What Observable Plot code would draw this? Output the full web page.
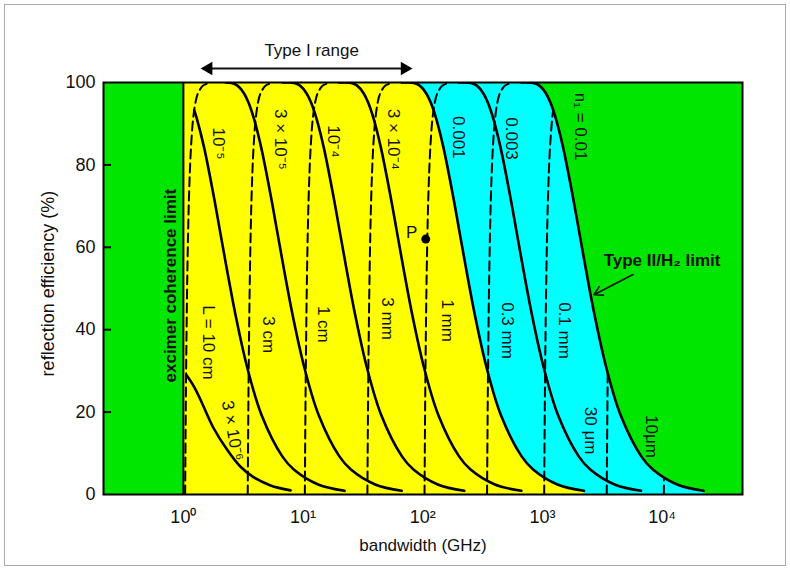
<!DOCTYPE html>
<html><head><meta charset="utf-8">
<script src="https://cdn.jsdelivr.net/npm/d3@7"></script>
<script src="https://cdn.jsdelivr.net/npm/@observablehq/plot@0.6"></script>
<style>
body{margin:0;background:#fff;}
#chart{position:relative;width:790px;height:570px;font-family:"Liberation Sans",Arial,Helvetica,sans-serif;}
#border{position:absolute;left:4px;top:4px;width:780px;height:560px;border:1px solid #aaa;pointer-events:none;}
</style></head><body>
<div id="chart"><div id="border"></div></div>
<script>
// ---- axes ----
const xDomain = [0.215, 47000];
const yDomain = [0, 100];
const xTicks = [1, 10, 100, 1000, 10000];
const xTickLabels = ["10⁰", "10¹", "10²", "10³", "10⁴"];
const yTicks = [0, 20, 40, 60, 80, 100];

// ---- solid curves: constant index modulation n1 (bandwidth GHz, reflection %) ----
const solidN1 = ["3e-6", "1e-5", "3e-5", "1e-4", "3e-4", "1e-3", "3e-3", "1e-2"];
const solidBW = [
  [1.06, 1.22, 1.39, 1.78, 2.33, 2.99, 3.85, 5.35, 7.86],
  [1.231, 1.297, 1.492, 1.797, 2.020, 2.323, 2.752, 3.403, 4.499, 6.707, 8.369, 13.36, 22.26],
  [2.254, 2.527, 2.831, 3.205, 3.492, 3.892, 4.476, 5.391, 6.060, 6.967, 8.254, 10.21, 13.50, 20.12, 25.11, 40.08, 66.77],
  [6.75, 7.46, 8.42, 9.44, 10.68, 11.64, 12.97, 14.92, 17.97, 20.20, 23.23, 27.52, 34.03, 44.99, 67.07, 83.69, 133.6, 222.6],
  [20.05, 22.38, 25.27, 28.31, 32.05, 34.92, 38.92, 44.76, 53.91, 60.60, 69.67, 82.54, 102.1, 135.0, 201.2, 251.1, 400.8, 667.7],
  [66.75, 74.61, 84.23, 94.37, 106.8, 116.4, 129.7, 149.2, 179.7, 202.0, 232.3, 275.2, 340.3, 449.9, 670.7, 836.9, 1336, 2226],
  [200.3, 223.8, 252.7, 283.1, 320.5, 349.2, 389.2, 447.6, 539.1, 606.0, 696.7, 825.4, 1021, 1350, 2012, 2511, 4008, 6677],
  [667.5, 746.1, 842.3, 943.7, 1068, 1164, 1297, 1492, 1797, 2020, 2323, 2752, 3403, 4499, 6707, 8369, 13360, 22260]
];
const solidR = [
  [29.0, 26.3, 23.0, 16.2, 10.8, 6.8, 4.2, 2.2, 1.0],
  [93.3, 91.19, 84.13, 72.27, 64.05, 54.23, 43.01, 31.01, 19.29, 9.25, 6.06, 2.43, 0.89],
  [100, 99.89, 99.25, 97.41, 95.20, 91.19, 84.13, 72.27, 64.05, 54.23, 43.01, 31.01, 19.29, 9.25, 6.06, 2.43, 0.89],
  [100, 100, 99.89, 99.25, 97.41, 95.20, 91.19, 84.13, 72.27, 64.05, 54.23, 43.01, 31.01, 19.29, 9.25, 6.06, 2.43, 0.89],
  [100, 100, 99.89, 99.25, 97.41, 95.20, 91.19, 84.13, 72.27, 64.05, 54.23, 43.01, 31.01, 19.29, 9.25, 6.06, 2.43, 0.89],
  [100, 100, 99.89, 99.25, 97.41, 95.20, 91.19, 84.13, 72.27, 64.05, 54.23, 43.01, 31.01, 19.29, 9.25, 6.06, 2.43, 0.89],
  [100, 100, 99.89, 99.25, 97.41, 95.20, 91.19, 84.13, 72.27, 64.05, 54.23, 43.01, 31.01, 19.29, 9.25, 6.06, 2.43, 0.89],
  [100, 100, 99.89, 99.25, 97.41, 95.20, 91.19, 84.13, 72.27, 64.05, 54.23, 43.01, 31.01, 19.29, 9.25, 6.06, 2.43, 0.89]
];

// ---- dashed curves: constant grating length L ----
const dashL = ["10 cm", "3 cm", "1 cm", "3 mm", "1 mm", "0.3 mm", "0.1 mm", "30 μm", "10 μm"];
const dashBW = [
  [1.0345, 1.040, 1.055, 1.080, 1.114, 1.157, 1.206, 1.263, 1.325, 1.463, 1.616],
  [3.448, 3.465, 3.516, 3.600, 3.713, 3.855, 4.021, 4.209, 4.416, 4.876, 5.386],
  [10.35, 10.40, 10.55, 10.80, 11.14, 11.57, 12.06, 12.63, 13.25, 14.63, 16.16],
  [34.48, 34.65, 35.16, 36.00, 37.13, 38.55, 40.21, 42.09, 44.16, 48.76, 53.86],
  [103.5, 104.0, 105.5, 108.0, 111.4, 115.7, 120.6, 126.3, 132.5, 146.3, 161.6],
  [344.8, 346.5, 351.6, 360.0, 371.3, 385.5, 402.1, 420.9, 441.6, 487.6, 538.6],
  [1034.5, 1039.7, 1055, 1080, 1114, 1157, 1206, 1231],
  [3448, 3465, 3513],
  [10345, 10367]
];
const dashR = [
  [0, 9.25, 31.01, 54.23, 72.27, 84.13, 91.19, 95.20, 97.41, 99.25, 99.79],
  [0, 9.25, 31.01, 54.23, 72.27, 84.13, 91.19, 95.20, 97.41, 99.25, 99.79],
  [0, 9.25, 31.01, 54.23, 72.27, 84.13, 91.19, 95.20, 97.41, 99.25, 99.79],
  [0, 9.25, 31.01, 54.23, 72.27, 84.13, 91.19, 95.20, 97.41, 99.25, 99.79],
  [0, 9.25, 31.01, 54.23, 72.27, 84.13, 91.19, 95.20, 97.41, 99.25, 99.79],
  [0, 9.25, 31.01, 54.23, 72.27, 84.13, 91.19, 95.20, 97.41, 99.25, 99.79],
  [0, 9.25, 31.01, 54.23, 72.27, 84.13, 91.19, 93.3],
  [0, 9.25, 29.5],
  [0, 4.0]
];

const excimerLimit = 1;          // GHz
const pointP = [{bw: 106, R: 62}];

// ---- curve labels ----
const n1LabelText = ["10⁻⁵", "3 × 10⁻⁵", "10⁻⁴", "3 × 10⁻⁴", "0.001", "0.003", "n₁ = 0.01"];
const n1LabelBW = [1.96, 6.48, 18.0, 57.2, 200, 555, 2060];
const n1LabelR = [85.2, 86.2, 85.7, 86.2, 86.7, 86.4, 89.3];
const n1SmallLabel = [{text: "3 × 10⁻⁶", bw: 2.57, R: 15.5}];
const lLabelText = ["L = 10 cm", "3 cm", "1 cm", "3 mm", "1 mm", "0.3 mm", "0.1 mm", "30 μm", "10μm"];
const lLabelBW = [1.62, 5.14, 14.85, 50.9, 161.9, 514, 1514, 2545, 8091];
const lLabelR = [36.9, 38.8, 41.3, 42.7, 42.2, 39.8, 39.8, 15.5, 14.1];
const excimerLabel = [{text: "excimer coherence limit", bw: 0.778, R: 50.7}];
const typeIILabel = [{text: "Type II/H₂ limit", bw: 10000, R: 56.8}];
const typeIIArrow = [{x1: 5718, y1: 53.4, x2: 2698, y2: 48.5}];
const typeIRange = [{x1: 1.62, x2: 70.7, R: 103.4}];
const typeIHeads = [{bw: 1.62, R: 103.4, rot: -90}, {bw: 70.7, R: 103.4, rot: 90}];
const typeILabel = [{text: "Type I range", bw: 11.8, R: 107.8}];

// ---- build tables ----
const solidRows = solidN1.flatMap((n, i) => solidBW[i].map((bw, j) => ({n, bw, R: solidR[i][j]})));
const dashRows = dashL.flatMap((l, i) => dashBW[i].map((bw, j) => ({l, bw, R: dashR[i][j]})));
const rowsOf = (n) => solidRows.filter(d => d.n === n);
const cyanRows = [{bw: excimerLimit, R: 100}, ...rowsOf("1e-2")];
const yellowRows = [{bw: excimerLimit, R: 100}, ...rowsOf("1e-3")];
const n1Labels = n1LabelText.map((t, i) => ({text: t, bw: n1LabelBW[i], R: n1LabelR[i]}));
const lLabels = lLabelText.map((t, i) => ({text: t, bw: lLabelBW[i], R: lLabelR[i]}));

const FONT = "Liberation Sans, Arial, Helvetica, sans-serif";
const chart = Plot.plot({
  width: 790,
  height: 570,
  marginLeft: 103,
  marginRight: 48,
  marginTop: 82,
  marginBottom: 76,
  style: {fontFamily: FONT, background: "white", color: "#111"},
  x: {type: "log", domain: xDomain},
  y: {domain: yDomain},
  marks: [
    Plot.frame({fill: "#00e600"}),
    Plot.areaY(cyanRows, {x: "bw", y1: 0, y2: "R", fill: "#00ffff", curve: "catmull-rom", clip: true}),
    Plot.areaY(yellowRows, {x: "bw", y1: 0, y2: "R", fill: "#ffff00", curve: "catmull-rom", clip: true}),
    Plot.ruleX([excimerLimit], {y1: 0, y2: 100, stroke: "black", strokeWidth: 2}),
    Plot.line(dashRows, {x: "bw", y: "R", z: "l", curve: "catmull-rom", stroke: "black", strokeWidth: 2, strokeDasharray: "9,5", clip: true}),
    Plot.line(solidRows, {x: "bw", y: "R", z: "n", curve: "catmull-rom", stroke: "black", strokeWidth: 2.6, clip: true}),
    Plot.dot(pointP, {x: "bw", y: "R", r: 4.5, fill: "black"}),
    Plot.text(pointP, {x: "bw", y: "R", text: () => "P", dx: -14, dy: -7, fontSize: 17}),
    Plot.text(n1Labels, {x: "bw", y: "R", text: "text", rotate: 90, fontSize: 17}),
    Plot.text(n1SmallLabel, {x: "bw", y: "R", text: "text", rotate: 80, fontSize: 17}),
    Plot.text(lLabels, {x: "bw", y: "R", text: "text", rotate: 90, fontSize: 17}),
    Plot.text(excimerLabel, {x: "bw", y: "R", text: "text", rotate: -90, fontSize: 17, fontWeight: "bold"}),
    Plot.text(typeIILabel, {x: "bw", y: "R", text: "text", fontSize: 17, fontWeight: "bold"}),
    Plot.arrow(typeIIArrow, {x1: "x1", y1: "y1", x2: "x2", y2: "y2", strokeWidth: 1.6, headLength: 9}),
    Plot.link(typeIRange, {x1: "x1", x2: "x2", y1: "R", y2: "R", strokeWidth: 2}),
    Plot.dot(typeIHeads, {x: "bw", y: "R", symbol: "triangle", rotate: "rot", r: 5, fill: "black"}),
    Plot.text(typeILabel, {x: "bw", y: "R", text: "text", fontSize: 17}),
    Plot.ruleY(yTicks.slice(1, -1), {stroke: "black", strokeWidth: 2, insetRight: 631}),
    Plot.axisY({ticks: yTicks, tickSize: 0, tickPadding: 8, fontSize: 18, label: null}),
    Plot.axisX({ticks: xTicks, tickFormat: (d) => xTickLabels[xTicks.indexOf(d)], tickSize: 0, tickPadding: 16, fontSize: 18, label: null}),
    Plot.text(["reflection efficiency (%)"], {frameAnchor: "left", dx: -55, dy: -5, rotate: -90, textAnchor: "middle", fontSize: 18}),
    Plot.text(["bandwidth (GHz)"], {frameAnchor: "bottom", dy: 56, fontSize: 17}),
    Plot.frame({stroke: "black", strokeWidth: 2})
  ]
});
document.getElementById("chart").prepend(chart);
</script>
</body></html>
